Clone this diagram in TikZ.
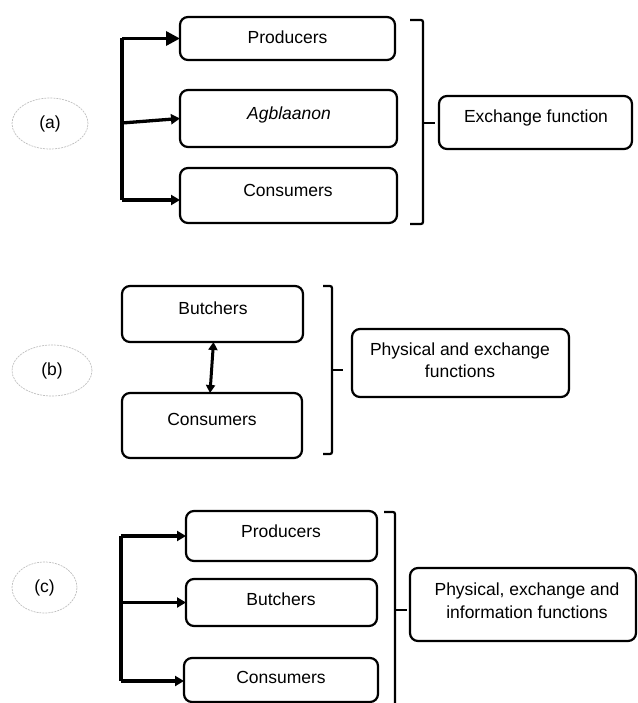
\documentclass[tikz,border=0pt]{standalone}
\usepackage{fontspec}
\setmainfont{Liberation Sans}
\usetikzlibrary{arrows.meta,shapes.geometric}
\begin{document}
\begin{tikzpicture}[x=1pt,y=-1pt,
  bx/.style={draw=black, line width=2.2pt, rounded corners=8pt, inner sep=0pt, outer sep=0pt},
  lbl/.style={font=\fontsize{17.5}{22}\selectfont, anchor=base, inner sep=0pt},
  lbltwo/.style={font=\fontsize{17.5}{#1}\selectfont, align=center, inner sep=0pt},
  tag/.style={ellipse, draw=gray!50, line width=0.7pt, dash pattern=on 2pt off 1pt, inner sep=0pt,
              font=\fontsize{17.5}{22}\selectfont},
  trunk/.style={line width=3.3pt, line join=miter},
  arr/.style={line width=3.3pt, -{Triangle[length=9pt,width=10pt]}},
  bigarr/.style={line width=3.3pt, -{Triangle[length=14pt,width=14pt]}},
  dbl/.style={line width=3pt, {Triangle[length=8pt,width=9pt]}-{Triangle[length=8pt,width=9pt]}},
  brk/.style={line width=2.2pt, rounded corners=2pt},
  tick/.style={line width=2.2pt},
]
\useasboundingbox (0,0) rectangle (637,703);

% ---------------- panel (a) ----------------
\node[tag, minimum width=76pt, minimum height=51pt] (ea) at (50,123.5) {(a)};
\node[bx, minimum width=215pt, minimum height=43pt] (pa1) at (287.5,38.5) {};
\node[bx, minimum width=217pt, minimum height=57pt] (pa2) at (288.5,118.5) {};
\node[bx, minimum width=217pt, minimum height=55pt] (pa3) at (288.5,195.5) {};
\node[lbl] (ta1) at (287.5,43.3) {Producers};
\node[lbl, font=\fontsize{17.5}{22}\selectfont\itshape] (ta2) at (289,119.3) {Agblaanon};
\node[lbl] (ta3) at (288,196.3) {Consumers};
\coordinate (atop) at (122,38.5);
\coordinate (amid) at (122,123);
\coordinate (abot) at (122,200);
\draw[trunk] (atop) -- (abot);
\draw[bigarr] (atop) -- (pa1.west);
\draw[arr] (amid) -- (pa2.west);
\draw[arr] (abot) -- (pa3.west |- abot);
\coordinate (abrT) at (410,20);
\coordinate (abrB) at (410,224);
\coordinate (atick) at (435,123);
\draw[brk] (abrT) -- (423,20) -- (423,224) -- (abrB);
\draw[tick] (423,123) -- (atick);
\node[bx, minimum width=193pt, minimum height=53pt] (ef) at (535.5,122.5) {};
\node[lbl] (tef) at (536,122.3) {Exchange function};

% ---------------- panel (b) ----------------
\node[tag, minimum width=80pt, minimum height=51pt] (eb) at (52,370.5) {(b)};
\node[bx, minimum width=181pt, minimum height=56pt] (pb1) at (212.5,314) {};
\node[bx, minimum width=180pt, minimum height=65pt] (pb2) at (212,425.5) {};
\node[lbl] (tb1) at (213,314.3) {Butchers};
\node[lbl] (tb2) at (212,425.3) {Consumers};
\draw[dbl] ([xshift=1pt]pb1.south) -- ([xshift=-2pt]pb2.north);
\coordinate (bbrT) at (323,286);
\coordinate (bbrB) at (323,454);
\coordinate (btick) at (343,370);
\draw[brk] (bbrT) -- (332,286) -- (332,454) -- (bbrB);
\draw[tick] (332,370) -- (btick);
\node[bx, minimum width=217pt, minimum height=68pt] (pbx) at (460.5,363) {};
\node[lbltwo=21.5pt] (tbx) at (460,360) {Physical and exchange\\functions};

% ---------------- panel (c) ----------------
\node[tag, minimum width=65pt, minimum height=51pt] (ec) at (44.5,587.5) {(c)};
\node[bx, minimum width=191pt, minimum height=50pt] (pc1) at (281.5,536) {};
\node[bx, minimum width=191pt, minimum height=47pt] (pc2) at (281.5,602.5) {};
\node[bx, minimum width=194pt, minimum height=44pt] (pc3) at (281,680) {};
\node[lbl] (tc1) at (281,537.3) {Producers};
\node[lbl] (tc2) at (281,605.3) {Butchers};
\node[lbl] (tc3) at (281,683.3) {Consumers};
\coordinate (ctop) at (121,536);
\coordinate (cmid) at (121,602.5);
\coordinate (cbot) at (121,681);
\draw[trunk] (ctop) -- (cbot);
\draw[arr] (ctop) -- (pc1.west);
\draw[arr] (cmid) -- (pc2.west);
\draw[arr] (cbot) -- (pc3.west |- cbot);
\coordinate (cbrT) at (384,512);
\coordinate (cbrB) at (395,708);
\coordinate (ctick) at (407,610);
\draw[brk] (cbrT) -- (395,512) -- (cbrB);
\draw[tick] (395,610) -- (ctick);
\node[bx, minimum width=226pt, minimum height=73pt] (pcx) at (523,604.5) {};
\node[lbltwo=23pt] (tcx) at (527,600.5) {Physical, exchange and\\information functions};
\end{tikzpicture}
\end{document}
